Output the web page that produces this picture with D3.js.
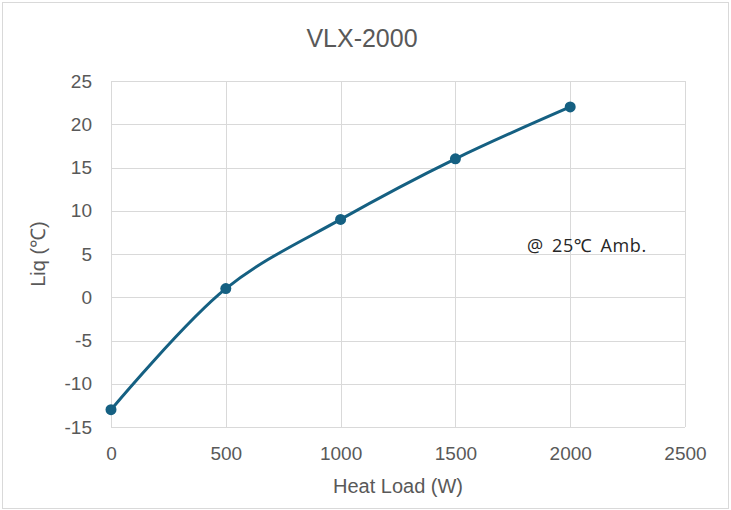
<!DOCTYPE html>
<html>
<head>
<meta charset="utf-8">
<script src="https://cdn.jsdelivr.net/npm/d3@7"></script>
<style>
  body { margin: 0; background: #fff; }
  svg { display: block; font-family: "Liberation Sans", Arial, sans-serif; }
</style>
</head>
<body>
<div id="chart"></div>
<script>
// chart values
var heatLoad = [0, 500, 1000, 1500, 2000];
var liqTemp = [-13, 1, 9, 16, 22];
var xTicks = [0, 500, 1000, 1500, 2000, 2500];
var yTicks = [-15, -10, -5, 0, 5, 10, 15, 20, 25];

var W = 731, H = 510;
var margin = { top: 81, right: 46, bottom: 83, left: 111 },
    width = W - margin.left - margin.right,
    height = H - margin.top - margin.bottom;

var svg = d3.select('#chart').append('svg')
  .attr('width', W)
  .attr('height', H);

// outer chart border
svg.append('rect')
  .attr('x', 2.5).attr('y', 2.5)
  .attr('width', W - 5).attr('height', H - 4)
  .attr('fill', '#fff')
  .attr('stroke', '#d9d9d9');

var g = svg.append('g')
  .attr('transform', 'translate(' + margin.left + ',' + margin.top + ')');

var x = d3.scaleLinear().domain([0, 2500]).range([0, width]);
var y = d3.scaleLinear().domain([-15, 25]).range([height, 0]);

// gridlines
g.append('g')
  .selectAll('line.h')
  .data(yTicks)
  .enter().append('line')
  .attr('x1', 0).attr('x2', width)
  .attr('y1', function(d) { return Math.round(y(d)) + 0.5; })
  .attr('y2', function(d) { return Math.round(y(d)) + 0.5; })
  .attr('stroke', '#d9d9d9');

g.append('g')
  .selectAll('line.v')
  .data(xTicks)
  .enter().append('line')
  .attr('y1', 0).attr('y2', height)
  .attr('x1', function(d) { return Math.round(x(d)) + 0.5; })
  .attr('x2', function(d) { return Math.round(x(d)) + 0.5; })
  .attr('stroke', '#d9d9d9');

// axes (labels only), plain numbers with ascii minus
var plain = function(d) { return String(d); };
var xAxis = g.append('g')
  .attr('transform', 'translate(0,' + height + ')')
  .call(d3.axisBottom(x).tickValues(xTicks).tickFormat(plain).tickSize(0).tickPadding(20));
var yAxis = g.append('g')
  .call(d3.axisLeft(y).tickValues(yTicks).tickFormat(plain).tickSize(0).tickPadding(19));
[xAxis, yAxis].forEach(function(a) {
  a.select('.domain').remove();
  a.selectAll('text')
    .attr('fill', '#595959')
    .style('font-size', '19px')
    .style('font-family', '"Liberation Sans", Arial, sans-serif');
});

// smoothed line
var pts = heatLoad.map(function(d, i) { return { x: d, y: liqTemp[i] }; });
var line = d3.line()
  .x(function(d) { return x(d.x); })
  .y(function(d) { return y(d.y); })
  .curve(d3.curveCatmullRom.alpha(0.5));

g.append('path')
  .datum(pts)
  .attr('d', line)
  .attr('fill', 'none')
  .attr('stroke', '#156082')
  .attr('stroke-width', 3)
  .attr('stroke-linecap', 'round');

g.selectAll('.dot')
  .data(pts)
  .enter().append('circle')
  .attr('class', 'dot')
  .attr('cx', function(d) { return x(d.x); })
  .attr('cy', function(d) { return y(d.y); })
  .attr('r', 5.5)
  .attr('fill', '#156082');

// titles
svg.append('text')
  .attr('x', 362).attr('y', 47)
  .attr('text-anchor', 'middle')
  .attr('fill', '#595959')
  .style('font-size', '25px')
  .text('VLX-2000');

svg.append('text')
  .attr('x', margin.left + width / 2).attr('y', 493)
  .attr('text-anchor', 'middle')
  .attr('fill', '#595959')
  .style('font-size', '20px')
  .text('Heat Load (W)');

svg.append('text')
  .attr('transform', 'translate(45,' + (margin.top + height / 2) + ') rotate(-90)')
  .attr('text-anchor', 'middle')
  .attr('fill', '#595959')
  .style('font-size', '20px')
  .text('Liq (℃)');

// annotation
svg.append('text')
  .attr('x', 527).attr('y', 252)
  .attr('fill', '#262626')
  .style('font-size', '18px')
  .style('letter-spacing', '0.6px')
  .style('word-spacing', '3px')
  .style('font-family', '"Open Sans", "Noto Sans", sans-serif')
  .text('@ 25℃ Amb.');
</script>
</body>
</html>
